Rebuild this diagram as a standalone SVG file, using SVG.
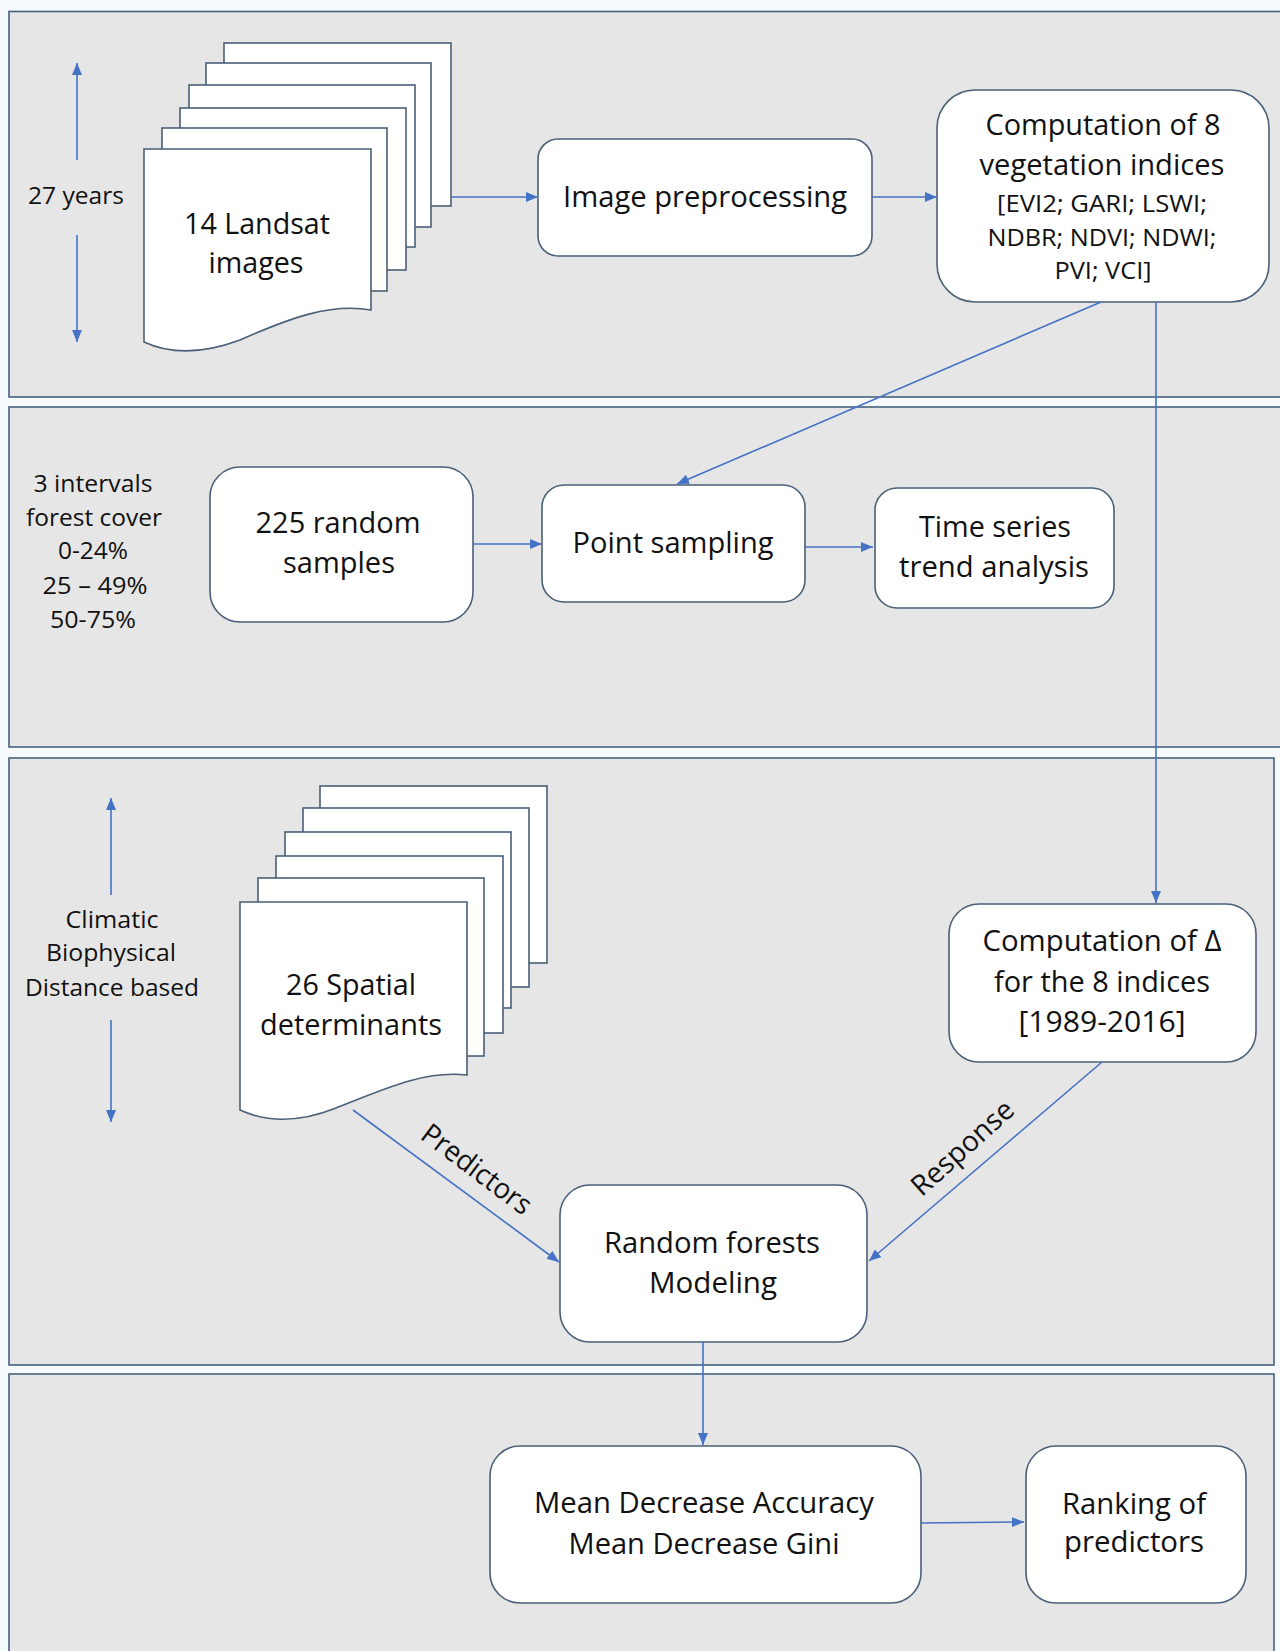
<svg xmlns="http://www.w3.org/2000/svg" width="1280" height="1651" viewBox="0 0 1280 1651">
<style>
  .panel { fill: #e7e6e6; stroke: #46627f; stroke-width: 1.6; }
  .box { fill: #ffffff; stroke: #4a5f78; stroke-width: 1.6; }
  .page { fill: #ffffff; stroke: #4a5f78; stroke-width: 1.6; }
  .conn { fill: none; stroke: #4472c4; stroke-width: 1.6; }
  text { font-family: "Open Sans", "Liberation Sans", sans-serif; fill: #111111; text-anchor: middle; }
  .t { font-size: 28.5px; }
  .s { font-size: 23.5px; }
</style>
<defs>
  <marker id="ah" markerUnits="userSpaceOnUse" markerWidth="12" markerHeight="10" refX="12" refY="5" orient="auto">
    <path d="M0,0 L12,5 L0,10 z" fill="#4472c4"/>
  </marker>
</defs>
<rect x="0" y="0" width="1280" height="1651" fill="#f7fafc"/>
<g id="panels">
  <rect class="panel" x="9" y="11.5" width="1285" height="385.5"/>
  <rect class="panel" x="9" y="407" width="1285" height="340"/>
  <rect class="panel" x="9" y="758" width="1265" height="607"/>
  <rect class="panel" x="9" y="1374" width="1265" height="290"/>
</g>
<g id="side-labels">
  <text class="s" x="76" y="204" textLength="96" lengthAdjust="spacingAndGlyphs">27 years</text>
  <text class="s" x="93" y="492" textLength="119" lengthAdjust="spacingAndGlyphs">3 intervals</text>
  <text class="s" x="94" y="526" textLength="136" lengthAdjust="spacingAndGlyphs">forest cover</text>
  <text class="s" x="93" y="559" textLength="70" lengthAdjust="spacingAndGlyphs">0-24%</text>
  <text class="s" x="95" y="594" textLength="105" lengthAdjust="spacingAndGlyphs">25 – 49%</text>
  <text class="s" x="93" y="628" textLength="86" lengthAdjust="spacingAndGlyphs">50-75%</text>
  <text class="s" x="112" y="928" textLength="93" lengthAdjust="spacingAndGlyphs">Climatic</text>
  <text class="s" x="111" y="961" textLength="130" lengthAdjust="spacingAndGlyphs">Biophysical</text>
  <text class="s" x="112" y="996" textLength="174" lengthAdjust="spacingAndGlyphs">Distance based</text>
</g>
<g id="node-landsat">
  <rect class="page" x="224" y="43" width="227" height="163"/>
  <rect class="page" x="206" y="63" width="225" height="164"/>
  <rect class="page" x="189" y="85" width="226" height="162"/>
  <rect class="page" x="180" y="108" width="226" height="162"/>
  <rect class="page" x="162" y="128" width="225" height="163"/>
  <path class="page" d="M144,149 H371 V310 C330,303 290,318 240,340 C200,355 170,354 144,342 Z"/>
  <text class="t" x="257" y="234" textLength="146" lengthAdjust="spacingAndGlyphs">14 Landsat</text>
  <text class="t" x="256" y="273" textLength="95" lengthAdjust="spacingAndGlyphs">images</text>
</g>
<g id="node-preprocessing">
  <rect class="box" x="538" y="139" width="334" height="117" rx="20"/>
  <text class="t" x="705" y="207" textLength="284" lengthAdjust="spacingAndGlyphs">Image preprocessing</text>
</g>
<g id="node-computation8">
  <rect class="box" x="937" y="90" width="332" height="212" rx="38"/>
  <text class="t" x="1103" y="135" textLength="235" lengthAdjust="spacingAndGlyphs">Computation of 8</text>
  <text class="t" x="1102" y="175" textLength="245" lengthAdjust="spacingAndGlyphs">vegetation indices</text>
  <text class="s" x="1102" y="212" textLength="210" lengthAdjust="spacingAndGlyphs">[EVI2; GARI; LSWI;</text>
  <text class="s" x="1102" y="246" textLength="229" lengthAdjust="spacingAndGlyphs">NDBR; NDVI; NDWI;</text>
  <text class="s" x="1103" y="279" textLength="97" lengthAdjust="spacingAndGlyphs">PVI; VCI]</text>
</g>
<g id="node-random-samples">
  <rect class="box" x="210" y="467" width="263" height="155" rx="30"/>
  <text class="t" x="338" y="533" textLength="165" lengthAdjust="spacingAndGlyphs">225 random</text>
  <text class="t" x="339" y="573" textLength="112" lengthAdjust="spacingAndGlyphs">samples</text>
</g>
<g id="node-point-sampling">
  <rect class="box" x="542" y="485" width="263" height="117" rx="22"/>
  <text class="t" x="673" y="553" textLength="201" lengthAdjust="spacingAndGlyphs">Point sampling</text>
</g>
<g id="node-time-series">
  <rect class="box" x="875" y="488" width="239" height="120" rx="22"/>
  <text class="t" x="995" y="537" textLength="152" lengthAdjust="spacingAndGlyphs">Time series</text>
  <text class="t" x="994" y="577" textLength="190" lengthAdjust="spacingAndGlyphs">trend analysis</text>
</g>
<g id="node-spatial">
  <rect class="page" x="320" y="786" width="227" height="177"/>
  <rect class="page" x="303" y="808" width="226" height="179"/>
  <rect class="page" x="285" y="832" width="226" height="176"/>
  <rect class="page" x="276" y="856" width="227" height="177"/>
  <rect class="page" x="258" y="878" width="226" height="178"/>
  <path class="page" d="M240,902 H467 V1075 C426,1070 386,1088 336,1108 C296,1124 266,1122 240,1110 Z"/>
  <text class="t" x="351" y="995" textLength="130" lengthAdjust="spacingAndGlyphs">26 Spatial</text>
  <text class="t" x="351" y="1035" textLength="182" lengthAdjust="spacingAndGlyphs">determinants</text>
</g>
<g id="node-computation-delta">
  <rect class="box" x="949" y="904" width="307" height="158" rx="30"/>
  <text class="t" x="1102" y="951" textLength="239" lengthAdjust="spacingAndGlyphs">Computation of Δ</text>
  <text class="t" x="1102" y="992" textLength="216" lengthAdjust="spacingAndGlyphs">for the 8 indices</text>
  <text class="t" x="1102" y="1032" textLength="167" lengthAdjust="spacingAndGlyphs">[1989-2016]</text>
</g>
<g id="node-random-forests">
  <rect class="box" x="560" y="1185" width="307" height="157" rx="30"/>
  <text class="t" x="712" y="1253" textLength="216" lengthAdjust="spacingAndGlyphs">Random forests</text>
  <text class="t" x="713" y="1293" textLength="128" lengthAdjust="spacingAndGlyphs">Modeling</text>
</g>
<g id="node-mean-decrease">
  <rect class="box" x="490" y="1446" width="431" height="157" rx="30"/>
  <text class="t" x="704" y="1513" textLength="340" lengthAdjust="spacingAndGlyphs">Mean Decrease Accuracy</text>
  <text class="t" x="704" y="1554" textLength="271" lengthAdjust="spacingAndGlyphs">Mean Decrease Gini</text>
</g>
<g id="node-ranking">
  <rect class="box" x="1026" y="1446" width="220" height="157" rx="30"/>
  <text class="t" x="1134" y="1514" textLength="144" lengthAdjust="spacingAndGlyphs">Ranking of</text>
  <text class="t" x="1134" y="1552" textLength="140" lengthAdjust="spacingAndGlyphs">predictors</text>
</g>
<g id="connectors">
  <line class="conn" x1="77" y1="160" x2="77" y2="63" marker-end="url(#ah)"/>
  <line class="conn" x1="77" y1="235" x2="77" y2="342" marker-end="url(#ah)"/>
  <line class="conn" x1="111" y1="895" x2="111" y2="798" marker-end="url(#ah)"/>
  <line class="conn" x1="111" y1="1020" x2="111" y2="1122" marker-end="url(#ah)"/>
  <line class="conn" x1="451" y1="197" x2="538" y2="197" marker-end="url(#ah)"/>
  <line class="conn" x1="872" y1="197" x2="937" y2="197" marker-end="url(#ah)"/>
  <line class="conn" x1="1101" y1="302" x2="677" y2="484" marker-end="url(#ah)"/>
  <line class="conn" x1="1156" y1="302" x2="1156" y2="903" marker-end="url(#ah)"/>
  <line class="conn" x1="473" y1="544" x2="542" y2="544" marker-end="url(#ah)"/>
  <line class="conn" x1="805" y1="547" x2="873" y2="547" marker-end="url(#ah)"/>
  <line class="conn" x1="353" y1="1110" x2="559" y2="1262" marker-end="url(#ah)"/>
  <line class="conn" x1="1102" y1="1062" x2="869" y2="1261" marker-end="url(#ah)"/>
  <line class="conn" x1="703" y1="1342" x2="703" y2="1445" marker-end="url(#ah)"/>
  <line class="conn" x1="921" y1="1523" x2="1024" y2="1522" marker-end="url(#ah)"/>
  <text class="t" transform="translate(471,1177) rotate(37)" textLength="130" lengthAdjust="spacingAndGlyphs">Predictors</text>
  <text class="t" transform="translate(969,1155) rotate(-42)" textLength="127" lengthAdjust="spacingAndGlyphs">Response</text>
</g>
</svg>
